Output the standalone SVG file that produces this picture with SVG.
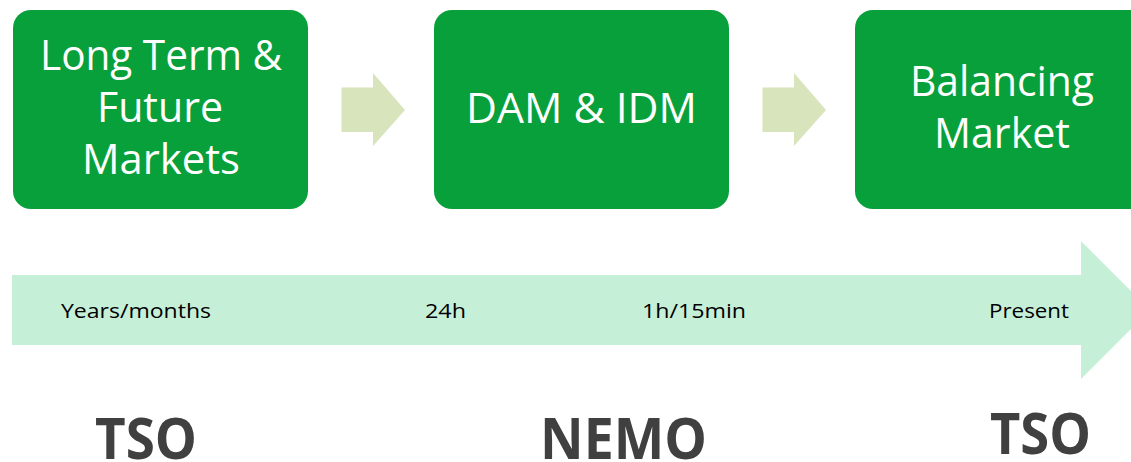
<svg xmlns="http://www.w3.org/2000/svg" width="1131" height="462" viewBox="0 0 1131 462">
<style>
.box{fill:#08A03A}
.bt{font-family:"Open Sans","Liberation Sans",sans-serif;font-size:42px;fill:#ffffff;text-anchor:middle}
.step{fill:#D8E4BC}
.tl{font-family:"Open Sans","Liberation Sans",sans-serif;font-size:20px;fill:#000000;text-anchor:middle}
.role{font-family:"Open Sans","Liberation Sans",sans-serif;font-size:58px;font-weight:bold;fill:#404040;text-anchor:middle}
</style>
<g id="timeline">
<polygon points="12,275 1081,275 1081,241 1150,310 1081,379 1081,345 12,345" fill="#C6EFD8"/>
<text class="tl" x="136" y="318" textLength="150" lengthAdjust="spacingAndGlyphs">Years/months</text>
<text class="tl" x="445.5" y="318" textLength="41" lengthAdjust="spacingAndGlyphs">24h</text>
<text class="tl" x="694" y="318" textLength="104" lengthAdjust="spacingAndGlyphs">1h/15min</text>
<text class="tl" x="1029" y="318" textLength="80" lengthAdjust="spacingAndGlyphs">Present</text>
</g>
<g id="connectors">
<polygon class="step" points="341.5,87.5 373,87.5 373,73 405,110 373,146 373,132 341.5,132"/>
<polygon class="step" points="762.5,87.5 794,87.5 794,73 826,110 794,146 794,132 762.5,132"/>
</g>
<g id="node-long-term">
<rect class="box" x="13" y="10" width="295" height="199" rx="18"/>
<text class="bt" x="161" y="70" textLength="242" lengthAdjust="spacingAndGlyphs">Long Term &amp;</text>
<text class="bt" x="160" y="122" textLength="126" lengthAdjust="spacingAndGlyphs">Future</text>
<text class="bt" x="161" y="174" textLength="158" lengthAdjust="spacingAndGlyphs">Markets</text>
</g>
<g id="node-dam-idm">
<rect class="box" x="434" y="10" width="295" height="199" rx="18"/>
<text class="bt" x="581.5" y="123" textLength="231" lengthAdjust="spacingAndGlyphs">DAM &amp; IDM</text>
</g>
<g id="node-balancing">
<rect class="box" x="855" y="10" width="310" height="199" rx="18"/>
<text class="bt" x="1002" y="96" textLength="184" lengthAdjust="spacingAndGlyphs">Balancing</text>
<text class="bt" x="1002" y="148" textLength="136" lengthAdjust="spacingAndGlyphs">Market</text>
</g>
<g id="roles">
<text class="role" x="146" y="459" textLength="102" lengthAdjust="spacingAndGlyphs">TSO</text>
<text class="role" x="623.5" y="459" textLength="167" lengthAdjust="spacingAndGlyphs">NEMO</text>
<text class="role" x="1040.5" y="454" textLength="101" lengthAdjust="spacingAndGlyphs">TSO</text>
</g>
</svg>
